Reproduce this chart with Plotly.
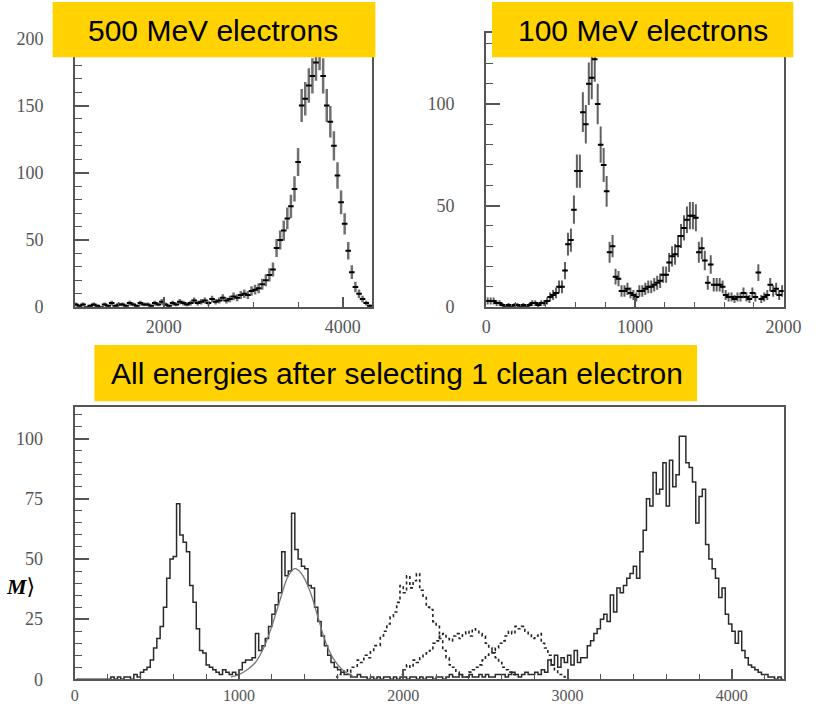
import plotly.graph_objects as go

# ---------------- data ----------------
# 500 MeV electrons (top-left), bin width 40
tl_bin_start, tl_bin_width = 1020, 40
tl_counts = [2, 1, 2, 0, 1, 2, 1, 0, 2, 1,
             3, 1, 2, 2, 1, 3, 2, 1, 3, 2,
             2, 1, 3, 2, 4, 2, 1, 3, 2, 4,
             3, 2, 3, 5, 3, 4, 5, 3, 6, 4,
             5, 7, 5, 6, 8, 7, 9, 10, 9, 12,
             13, 14, 17, 20, 24, 28, 44, 50, 57, 66,
             75, 88, 108, 150, 155, 165, 172, 182, 190, 172,
             150, 138, 120, 98, 78, 62, 42, 26, 15, 10,
             6, 3, 1]

# 100 MeV electrons (top-right), bin width 20
tr_bin_start, tr_bin_width = 10, 20
tr_counts = [3, 3, 3, 2, 2, 1, 0, 1, 0, 1,
             1, 0, 1, 0, 1, 2, 2, 1, 2, 2,
             3, 5, 6, 7, 10, 10, 18, 31, 33, 48,
             67, 67, 96, 90, 110, 113, 122, 100, 80, 70,
             57, 27, 30, 15, 14, 8, 8, 9, 7, 6,
             5, 8, 8, 9, 10, 10, 11, 12, 13, 16,
             16, 22, 25, 26, 30, 35, 39, 43, 45, 45,
             44, 27, 29, 23, 12, 21, 11, 11, 11, 10,
             6, 5, 5, 4, 5, 5, 7, 5, 4, 7,
             5, 17, 4, 5, 6, 11, 8, 9, 6, 8]

# All energies (bottom): solid histogram, bin width 20
b_bin_start, b_bin_width = 10, 20
b_solid = [0, 0, 0, 0, 0, 0, 0, 0, 0, 0,
           0, 1, 0, 1, 0, 1, 1, 0, 2, 1,
           3, 4, 5, 8, 13, 17, 22, 30, 42, 50,
           51, 73, 60, 57, 53, 39, 32, 21, 12, 11,
           6, 5, 4, 3, 2, 4, 3, 2, 3, 2,
           4, 7, 8, 8, 9, 19, 12, 14, 17, 22,
           27, 31, 36, 53, 43, 45, 69, 54, 50, 47,
           46, 39, 38, 30, 24, 18, 14, 10, 7, 5,
           4, 3, 2, 2, 1, 1, 2, 1, 1, 0,
           1, 0, 1, 0, 1, 1, 0, 1, 0, 1,
           1, 0, 1, 1, 0, 1, 0, 1, 1, 0,
           1, 1, 0, 1, 2, 1, 1, 2, 1, 1,
           2, 1, 1, 2, 1, 2, 1, 1, 2, 2,
           2, 1, 2, 3, 2, 1, 2, 3, 2, 2,
           3, 2, 4, 3, 8, 6, 10, 5, 9, 7,
           10, 6, 12, 7, 9, 9, 14, 16, 19, 21,
           25, 27, 24, 35, 28, 38, 36, 39, 42, 44,
           47, 42, 53, 62, 75, 72, 86, 77, 79, 90,
           72, 91, 80, 85, 101, 101, 90, 88, 82, 65,
           76, 79, 56, 50, 46, 42, 34, 38, 27, 23,
           20, 15, 20, 12, 9, 6, 5, 4, 3, 2,
           2, 1, 1, 0, 1, 0]

# dotted histograms (intermediate energies), bin width 20
dA_start = 1590
dA_counts = [1, 2, 3, 4, 3, 5, 5, 8, 7, 10, 9, 12, 14, 14, 18, 20, 23, 26, 28, 32,
             39, 36, 43, 38, 41, 44, 37, 34, 30, 29, 24, 22, 17, 12, 9, 6, 5, 3, 2, 1, 1]
dB_start = 1990
dB_counts = [2, 4, 6, 5, 8, 7, 9, 10, 11, 12, 15, 16, 18, 19, 17, 16, 18, 19, 17, 19,
             20, 18, 21, 20, 19, 18, 15, 13, 11, 9, 7, 5, 4, 3, 2, 1]
dC_start = 2390
dC_counts = [1, 3, 4, 5, 6, 8, 10, 11, 12, 13, 15, 16, 18, 20, 19, 22, 21, 22, 20, 19,
             17, 18, 19, 15, 13, 10, 6, 4, 2, 2, 1, 0]

# fitted curve over the second peak
fit_x = [950, 1000, 1050, 1100, 1150, 1200, 1250, 1300, 1340, 1380, 1430, 1480, 1530, 1580, 1630, 1700]
fit_y = [1, 2, 4, 7, 13, 22, 33, 43, 46, 44, 37, 26, 15, 8, 4, 1]

labels = ["500 MeV electrons", "100 MeV electrons", "All energies after selecting 1 clean electron"]


def centers(start, width, n):
    return [start + i * width for i in range(n)]


W, H = 823, 714


def px(x):
    return x / W


def py(y):
    return 1 - y / H


AX = "#555555"
TICKFONT = dict(family="Liberation Serif, Times New Roman, serif", size=18, color="#555555")
TICKFONT_BOTTOM = dict(family="Liberation Serif, Times New Roman, serif", size=16, color="#555555")

fig = go.Figure()

# top-left
fig.add_trace(go.Scatter(
    x=centers(tl_bin_start, tl_bin_width, len(tl_counts)), y=tl_counts,
    mode="markers", xaxis="x", yaxis="y",
    marker=dict(symbol="line-ew", size=4, color="black", line=dict(width=2, color="black")),
    error_y=dict(type="sqrt", color="#707070", thickness=2.5, width=0),
    showlegend=False, hoverinfo="skip"))

# top-right
fig.add_trace(go.Scatter(
    x=centers(tr_bin_start, tr_bin_width, len(tr_counts)), y=tr_counts,
    mode="markers", xaxis="x2", yaxis="y2",
    marker=dict(symbol="line-ew", size=4, color="black", line=dict(width=2, color="black")),
    error_y=dict(type="sqrt", color="#606060", thickness=2, width=0),
    error_x=dict(type="constant", value=tr_bin_width / 2, color="#333333", thickness=1.5, width=0),
    showlegend=False, hoverinfo="skip"))

# bottom
for start, counts in [(dA_start, dA_counts), (dB_start, dB_counts), (dC_start, dC_counts)]:
    fig.add_trace(go.Scatter(
        x=centers(start, b_bin_width, len(counts)), y=counts,
        mode="lines", xaxis="x3", yaxis="y3",
        line=dict(shape="hvh", dash="dot", width=1.6, color="#222222"),
        showlegend=False, hoverinfo="skip"))

fig.add_trace(go.Scatter(
    x=centers(b_bin_start, b_bin_width, len(b_solid)), y=b_solid,
    mode="lines", xaxis="x3", yaxis="y3",
    line=dict(shape="hvh", width=1.5, color="#2a2a2a"),
    showlegend=False, hoverinfo="skip"))

fig.add_trace(go.Scatter(
    x=fit_x, y=fit_y, mode="lines", xaxis="x3", yaxis="y3",
    line=dict(shape="spline", width=1.3, color="#777777"),
    showlegend=False, hoverinfo="skip"))


def xax(domain, rng, dtick, minor_dtick, anchor, font=TICKFONT, standoff=2):
    return dict(domain=domain, range=rng, anchor=anchor, showgrid=False, zeroline=False,
                showline=True, linecolor=AX, linewidth=2, mirror=True,
                ticks="inside", ticklen=10, tickwidth=1.5, tickcolor=AX, dtick=dtick, tick0=0,
                minor=dict(ticks="inside", dtick=minor_dtick, ticklen=5, tickwidth=1.2, tickcolor=AX),
                tickfont=font, ticklabelstandoff=standoff, fixedrange=True)


def yax(domain, rng, dtick, minor_dtick, anchor):
    return dict(domain=domain, range=rng, anchor=anchor, showgrid=False, zeroline=False,
                showline=True, linecolor=AX, linewidth=2, mirror=True,
                ticks="inside", ticklen=14, tickwidth=1.5, tickcolor=AX, dtick=dtick, tick0=0,
                minor=dict(ticks="inside", dtick=minor_dtick, ticklen=7, tickwidth=1.2, tickcolor=AX),
                tickfont=TICKFONT, ticklabelstandoff=26, fixedrange=True)


fig.update_layout(
    width=W, height=H, margin=dict(l=0, r=0, t=0, b=0),
    showlegend=False,
    paper_bgcolor="white", plot_bgcolor="white",
    xaxis=xax([px(72), px(378)], [1010, 4330], 2000, 500, "y"),
    yaxis=yax([py(311.5), py(28)], [0, 208], 50, 10, "x"),
    xaxis2=xax([px(495), px(801)], [0, 2000], 1000, 200, "y2"),
    yaxis2=yax([py(311.5), py(33)], [0, 135.2], 50, 10, "x2"),
    xaxis3=xax([px(71.7), px(801)], [0, 4315], 1000, 200, "y3", font=TICKFONT_BOTTOM, standoff=0),
    yaxis3=yax([py(689), py(412.7)], [0, 113.2], 25, 5, "x3"),
)

YELLOW = "#FFD200"
boxes = [(49, 2, 381, 58, 214, 31), (501, 2, 811, 58, 656, 31), (92, 350, 712, 407, 403, 379)]
for (x0, y0, x1, y1, cx, cy), text in zip(boxes, labels):
    fig.add_shape(type="rect", xref="paper", yref="paper",
                  x0=px(x0), x1=px(x1), y0=py(y1), y1=py(y0),
                  fillcolor=YELLOW, line=dict(width=0), layer="above")
    fig.add_annotation(xref="paper", yref="paper", x=px(cx), y=py(cy),
                       text=text, showarrow=False, xanchor="center", yanchor="middle",
                       font=dict(family="Liberation Sans, Arial, sans-serif", size=30, color="black"))

# axis-title fragment on the left of the bottom panel (kept fully inside the page)
fig.add_annotation(xref="paper", yref="paper", x=0, y=py(595),
                   text="<b><i>M</i></b>\u27e9", showarrow=False, xanchor="left", yanchor="middle",
                   borderpad=0,
                   font=dict(family="Liberation Serif, DejaVu Serif, serif", size=22, color="black"))

fig.write_html("out.html")
